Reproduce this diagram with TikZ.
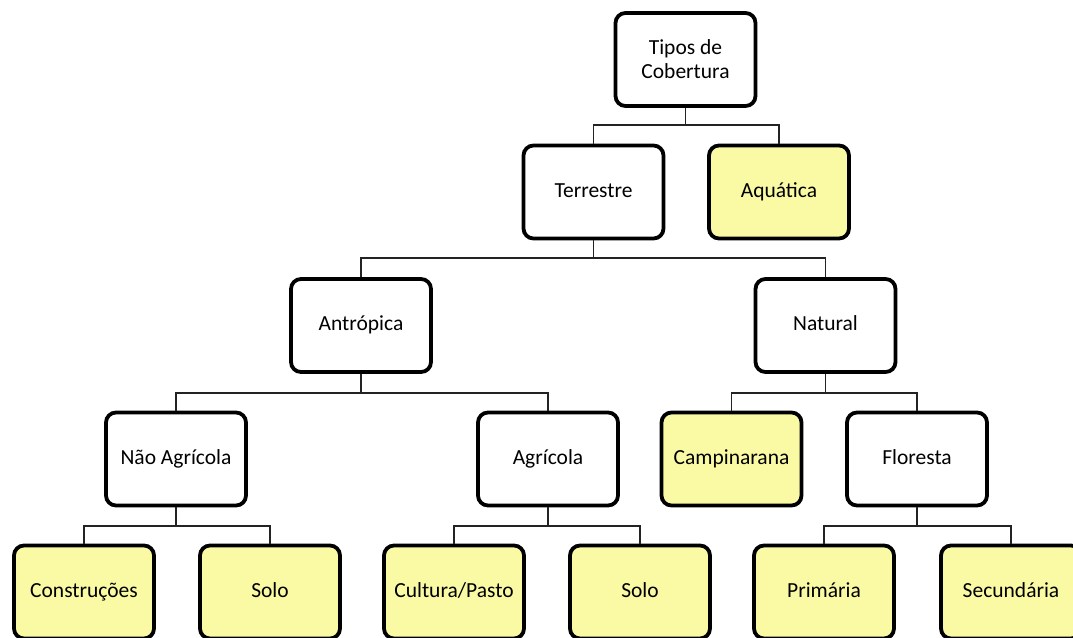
\documentclass[tikz,border=0pt]{standalone}
\usepackage{fontspec}
\setmainfont{Carlito}
\definecolor{boxyellow}{RGB}{250,250,165}
\definecolor{connc}{RGB}{35,35,35}
\begin{document}
\begin{tikzpicture}[x=1pt,y=-1pt,
  basebox/.style={draw=black, line width=3.8pt, rounded corners=10pt, fill=white,
    minimum width=140pt, minimum height=93pt, inner sep=2pt, align=center,
    font=\fontsize{21.5}{24}\selectfont},
  box/.style={basebox, text height=14.5pt, text depth=4.5pt},
  leaf/.style={box, fill=boxyellow},
  conn/.style={draw=connc, line width=1.9pt}]
\useasboundingbox (0,0) rectangle (1073,637);
\clip (0,0) rectangle (1073,637);
\node[basebox] (root) at (685.5,59.5) {Tipos de\\Cobertura};
\node[box] (terr) at (593.5,192) {Terrestre};
\node[leaf] (aqua) at (779,192) {Aquática};
\node[box] (antr) at (361,325.5) {Antrópica};
\node[box] (nat) at (825.5,325.5) {Natural};
\node[box] (nao) at (176,459) {Não Agrícola};
\node[box] (agr) at (548,459) {Agrícola};
\node[leaf] (camp) at (731.5,459) {Campinarana};
\node[box] (flor) at (917,459) {Floresta};
\node[leaf] (cons) at (84,592) {Construções};
\node[leaf] (solo1) at (270,592) {Solo};
\node[leaf] (cult) at (454,592) {Cultura/Pasto};
\node[leaf] (solo2) at (640,592) {Solo};
\node[leaf] (prim) at (824,592) {Primária};
\node[leaf] (sec) at (1011,592) {Secundária};
% connectors
\draw[conn] (root.south) -- (root.south |- 0,125);
\draw[conn] (terr.north) -- (terr.north |- 0,125) -- (aqua.north |- 0,125) -- (aqua.north);
\draw[conn] (terr.south) -- (terr.south |- 0,258);
\draw[conn] (antr.north) -- (antr.north |- 0,258) -- (nat.north |- 0,258) -- (nat.north);
\draw[conn] (antr.south) -- (antr.south |- 0,393);
\draw[conn] (nao.north) -- (nao.north |- 0,393) -- (agr.north |- 0,393) -- (agr.north);
\draw[conn] (nat.south) -- (nat.south |- 0,393);
\draw[conn] (camp.north) -- (camp.north |- 0,393) -- (flor.north |- 0,393) -- (flor.north);
\draw[conn] (nao.south) -- (nao.south |- 0,526);
\draw[conn] (cons.north) -- (cons.north |- 0,526) -- (solo1.north |- 0,526) -- (solo1.north);
\draw[conn] (agr.south) -- (agr.south |- 0,526);
\draw[conn] (cult.north) -- (cult.north |- 0,526) -- (solo2.north |- 0,526) -- (solo2.north);
\draw[conn] (flor.south) -- (flor.south |- 0,526);
\draw[conn] (prim.north) -- (prim.north |- 0,526) -- (sec.north |- 0,526) -- (sec.north);
\end{tikzpicture}
\end{document}
